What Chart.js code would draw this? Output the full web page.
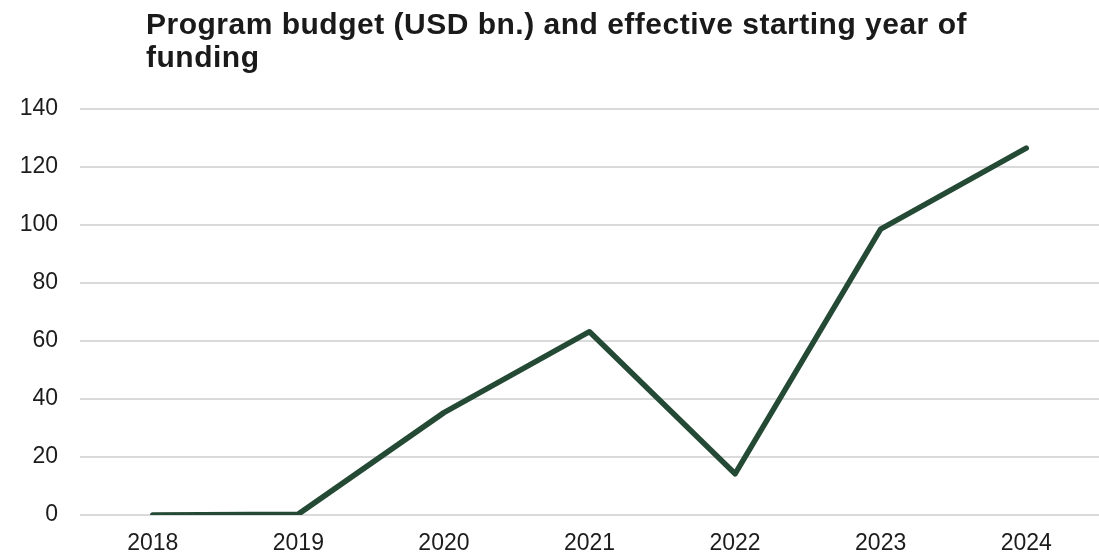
<!DOCTYPE html>
<html>
<head>
<meta charset="utf-8">
<script src="https://cdn.jsdelivr.net/npm/chart.js@4/dist/chart.umd.min.js"></script>
<style>
    body { margin: 0; background: #ffffff; }
    #wrap { width: 1099px; height: 553px; }
</style>
</head>
<body>
<div id="wrap"><canvas id="budgetChart" width="1099" height="553"></canvas></div>
<script>
// Budget per starting year (USD bn.)
const years = ['2018', '2019', '2020', '2021', '2022', '2023', '2024'];
const budget = [0, 0.3, 35.3, 63.2, 14.2, 98.6, 126.5];
const yTicks = [0, 20, 40, 60, 80, 100, 120, 140];
const titleLines = ['Program budget (USD bn.) and effective starting year of', 'funding'];

const FONT = '"Liberation Sans", Arial, Helvetica, sans-serif';

// Two-line title, left aligned with its own offset
const titlePlugin = {
    id: 'leftTitle',
    afterDraw: function(chart) {
        const ctx = chart.ctx;
        ctx.save();
        ctx.font = 'bold 30px ' + FONT;
        ctx.letterSpacing = '0.5px';
        ctx.fillStyle = '#1a1a1a';
        ctx.textBaseline = 'alphabetic';
        titleLines.forEach(function(line, i) {
            ctx.fillText(line, 146, 34 + i * 33);
        });
        ctx.restore();
    }
};

var ctx = document.getElementById('budgetChart').getContext('2d');
var budgetChart = new Chart(ctx, {
    type: 'line',
    data: {
        labels: years,
        datasets: [{
            label: 'Program budget',
            data: budget,
            borderColor: '#244a35',
            borderWidth: 5.5,
            borderCapStyle: 'round',
            borderJoinStyle: 'round',
            pointRadius: 0,
            tension: 0,
            fill: false
        }]
    },
    options: {
        responsive: false,
        animation: false,
        layout: {
            padding: { top: 109, left: 0, right: 0, bottom: 0 }
        },
        plugins: {
            legend: { display: false },
            tooltip: { enabled: false },
            title: { display: false }
        },
        scales: {
            x: {
                type: 'category',
                offset: true,
                grid: { display: false },
                border: { display: false },
                ticks: {
                    color: '#1c1c1c',
                    font: { family: FONT, size: 23 },
                    padding: 7,
                    maxRotation: 0
                },
                afterFit: function(scale) { scale.height = 38; }
            },
            y: {
                min: 0,
                max: 140,
                grid: {
                    color: '#dadada',
                    lineWidth: 2,
                    drawTicks: false
                },
                border: { display: false },
                ticks: {
                    color: '#1c1c1c',
                    font: { family: FONT, size: 23 },
                    padding: 22
                },
                afterBuildTicks: function(scale) {
                    scale.ticks = yTicks.map(function(v) { return { value: v }; });
                },
                afterFit: function(scale) { scale.width = 80; }
            }
        }
    },
    plugins: [titlePlugin]
});
</script>
</body>
</html>
